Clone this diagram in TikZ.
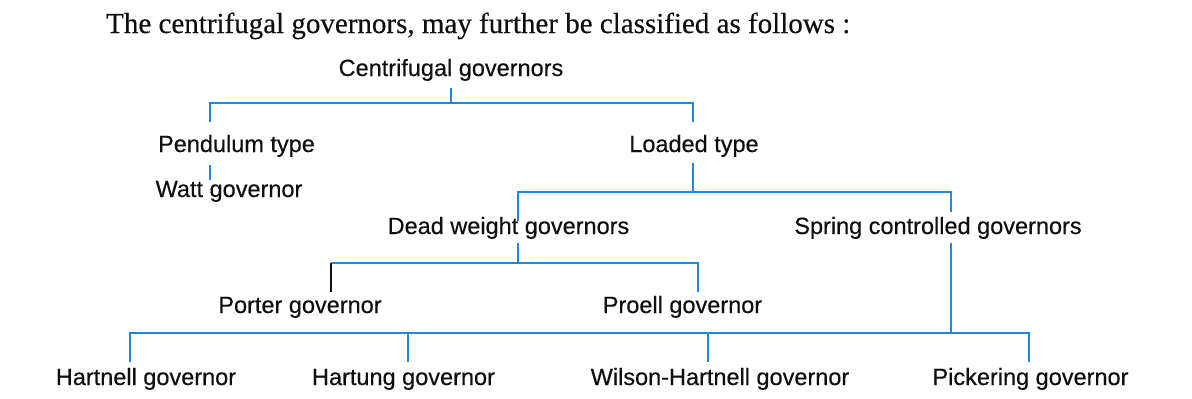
\documentclass[tikz,border=0pt]{standalone}
\usepackage{fontspec}
\setmainfont{Liberation Sans}
\newfontfamily\labfont{Liberation Sans}[FakeBold=0.35]
\newfontfamily\titlefont{Liberation Serif}[FakeBold=0.35]
\definecolor{linkblue}{RGB}{35,135,215}
\definecolor{inkcol}{RGB}{15,15,15}
\begin{document}
\begin{tikzpicture}[x=1pt,y=-1pt,
  lab/.style={anchor=base,inner sep=0pt,text=inkcol,font=\labfont\fontsize{23.5}{28}\selectfont},
  conn/.style={draw=linkblue,line width=1.9pt},
  darkconn/.style={draw=inkcol,line width=1.6pt}]
\fill[white] (0,0) rectangle (1192,399);
\useasboundingbox (0,0) rectangle (1192,399);
% title
\node[anchor=base west,inner sep=0pt,text=inkcol,font=\titlefont\fontsize{29}{34}\selectfont] (title) at (106,33) {The centrifugal governors, may further be classified as follows :};
% labels
\node[lab] (root) at (451,76) {Centrifugal governors};
\node[lab] (pend) at (236.5,152) {Pendulum type};
\node[lab] (watt) at (229,197) {Watt governor};
\node[lab] (load) at (694,152) {Loaded type};
\node[lab] (dead) at (508.5,234) {Dead weight governors};
\node[lab] (spring) at (938,234) {Spring controlled governors};
\node[lab] (porter) at (300,313) {Porter governor};
\node[lab] (proell) at (682.5,313) {Proell governor};
\node[lab] (hartnell) at (146,385) {Hartnell governor};
\node[lab] (hartung) at (403.5,385) {Hartung governor};
\node[lab] (wilson) at (720,385) {Wilson-Hartnell governor};
\node[lab] (pick) at (1030.5,385) {Pickering governor};
% junction coordinates
\coordinate (rootB) at (451,88);
\coordinate (j1) at (451,103);
\coordinate (pendT) at (210,122);
\coordinate (loadT) at (693,122);
\coordinate (pendB) at (210,165);
\coordinate (wattT) at (210,180);
\coordinate (loadB) at (693,163);
\coordinate (j2) at (693,192);
\coordinate (deadT) at (518,221);
\coordinate (springT) at (951,212);
\coordinate (deadB) at (518,243);
\coordinate (j3) at (518,263);
\coordinate (porterT) at (331,292);
\coordinate (proellT) at (698,292);
\coordinate (springB) at (951,243);
\coordinate (j4) at (951,333);
\coordinate (hartnellT) at (130,362);
\coordinate (hartungT) at (408,362);
\coordinate (wilsonT) at (708,362);
\coordinate (pickT) at (1029,362);
% connectors
\draw[conn] (rootB) -- (j1);
\draw[conn] (pendT) |- (j1) -| (loadT);
\draw[conn] (pendB) -- (wattT);
\draw[conn] (loadB) -- (j2);
\draw[conn] (deadT) |- (j2) -| (springT);
\draw[conn] (deadB) -- (j3);
\draw[conn] (j3) -| (proellT);
\draw[conn] (j3) -| (porterT |- j3);
\draw[darkconn] (porterT |- j3) -- (porterT);
\draw[conn] (springB) -- (j4);
\draw[conn] (hartnellT) |- (j4) -| (pickT);
\draw[conn] (hartungT) -- (hartungT |- j4);
\draw[conn] (wilsonT) -- (wilsonT |- j4);
\end{tikzpicture}
\end{document}
